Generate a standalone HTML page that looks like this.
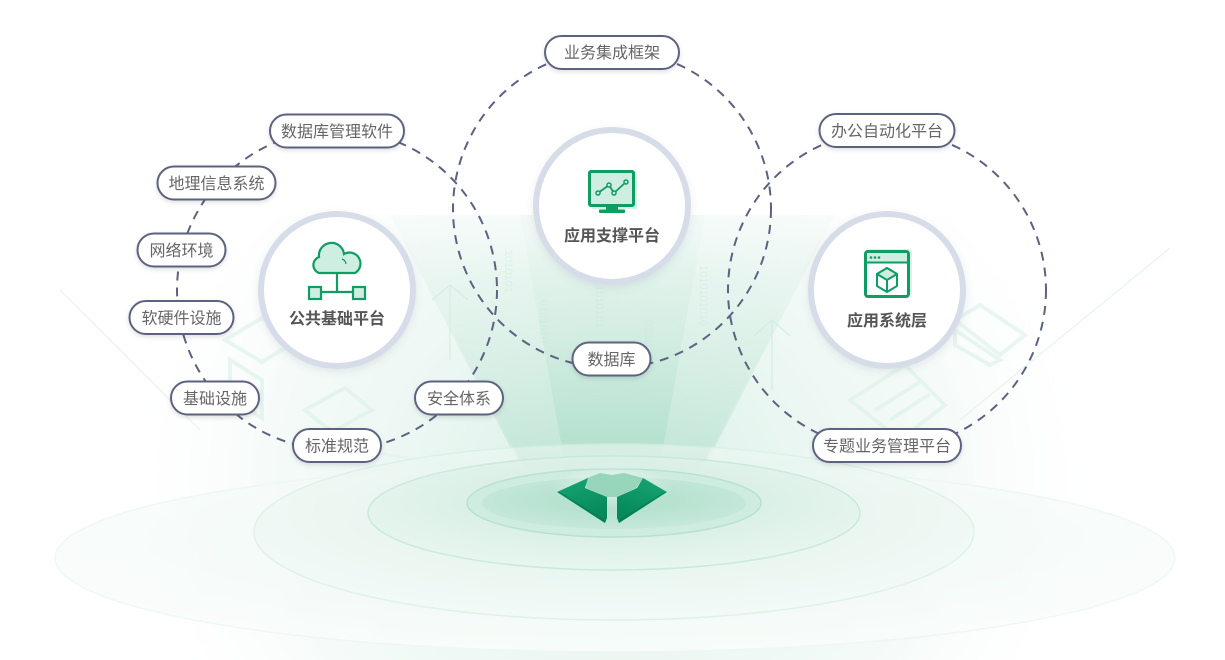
<!DOCTYPE html>
<html><head><meta charset="utf-8"><style>
html,body{margin:0;padding:0;background:#fff;}
svg{display:block;}
text{font-family:"Liberation Sans","Noto Sans CJK SC",sans-serif;}
</style></head><body>
<svg width="1225" height="660" viewBox="0 0 1225 660" xmlns="http://www.w3.org/2000/svg">
<defs>
<radialGradient id="bg" gradientUnits="userSpaceOnUse" cx="612" cy="480" r="500" gradientTransform="translate(612 480) scale(1 0.85) translate(-612 -480)">
 <stop offset="0" stop-color="#d6efe5"/>
 <stop offset="0.35" stop-color="#e9f6f1"/>
 <stop offset="0.7" stop-color="#f6fbf9"/>
 <stop offset="1" stop-color="#ffffff" stop-opacity="0"/>
</radialGradient>
<linearGradient id="fadeTop" x1="0" y1="0" x2="0" y2="1">
 <stop offset="0" stop-color="#ffffff" stop-opacity="0.6"/>
 <stop offset="1" stop-color="#ffffff" stop-opacity="0"/>
</linearGradient>
<linearGradient id="beamA" x1="0" y1="1" x2="0" y2="0">
 <stop offset="0" stop-color="#aadcc7" stop-opacity="0.55"/>
 <stop offset="1" stop-color="#e2f3ec" stop-opacity="0.15"/>
</linearGradient>
<linearGradient id="beamB" x1="0" y1="1" x2="0" y2="0">
 <stop offset="0" stop-color="#93d3b8" stop-opacity="0.5"/>
 <stop offset="1" stop-color="#d6eee4" stop-opacity="0.1"/>
</linearGradient>
<radialGradient id="ell1" cx="0.5" cy="0.4" r="0.6">
 <stop offset="0" stop-color="#eef8f4"/>
 <stop offset="1" stop-color="#fafdfc"/>
</radialGradient>
<radialGradient id="ell2" cx="0.5" cy="0.4" r="0.6">
 <stop offset="0" stop-color="#ddf1e8"/>
 <stop offset="1" stop-color="#f3faf7"/>
</radialGradient>
<radialGradient id="ell3" cx="0.5" cy="0.4" r="0.6">
 <stop offset="0" stop-color="#cbeadd"/>
 <stop offset="1" stop-color="#e8f6f0"/>
</radialGradient>
<radialGradient id="ell4" cx="0.5" cy="0.45" r="0.6">
 <stop offset="0" stop-color="#addec9"/>
 <stop offset="1" stop-color="#c8e9db"/>
</radialGradient>
<radialGradient id="gemGlow" cx="0.5" cy="0.5" r="0.5">
 <stop offset="0" stop-color="#ffffff" stop-opacity="0.7"/>
 <stop offset="1" stop-color="#ffffff" stop-opacity="0"/>
</radialGradient>
<linearGradient id="gemL" x1="0" y1="0" x2="0.4" y2="1">
 <stop offset="0" stop-color="#18a874"/>
 <stop offset="1" stop-color="#06885a"/>
</linearGradient>
<linearGradient id="gemR" x1="1" y1="0" x2="0.6" y2="1">
 <stop offset="0" stop-color="#18a874"/>
 <stop offset="1" stop-color="#06885a"/>
</linearGradient>
<filter id="pshadow" x="-20%" y="-40%" width="140%" height="200%">
 <feDropShadow dx="0" dy="2" stdDeviation="2.5" flood-color="#000" flood-opacity="0.12"/>
</filter>
<filter id="nshadow" x="-20%" y="-20%" width="140%" height="140%">
 <feDropShadow dx="0" dy="3" stdDeviation="4" flood-color="#5a6a80" flood-opacity="0.12"/>
</filter>
</defs>

<!-- background glow -->
<rect x="80" y="215" width="1070" height="445" fill="url(#bg)"/>
<rect x="80" y="215" width="1070" height="60" fill="url(#fadeTop)"/>

<!-- faint decorative lines -->
<g stroke="#e2f3ec" stroke-width="1.2" fill="none" opacity="0.9">
 <line x1="960" y1="420" x2="1170" y2="248"/>
 <line x1="200" y1="430" x2="60" y2="290"/>
 <path d="M 400 560 Q 520 300 612 290 Q 705 300 825 560" stroke="#e6f5ef"/>
</g>

<!-- faint isometric shapes -->
<g stroke="#dcf1e8" stroke-width="4" fill="none" opacity="0.6">
 <polygon points="225,340 262,318 298,340 262,362"/>
 <polygon points="230,360 262,380 262,418 230,398"/>
 <polygon points="305,410 345,388 372,410 332,432"/>
 <polygon points="955,320 980,305 1025,335 1000,355"/>
 <polygon points="955,330 1000,360 990,365 955,345"/>
 <polygon points="850,400 905,365 945,405 900,440"/>
 <line x1="875" y1="410" x2="920" y2="382"/>
 <line x1="890" y1="420" x2="930" y2="394"/>
</g>

<!-- faint binary columns -->
<g fill="#d6ece2" font-size="11" opacity="0.7">
 <text transform="translate(596,285) rotate(90)">1010101</text>
 <text transform="translate(700,265) rotate(90)">1010101010</text>
 <text transform="translate(540,300) rotate(90)">0101010</text>
 <text transform="translate(505,250) rotate(90)">1010101</text>
 <text transform="translate(645,320) rotate(90)">01010</text>
</g>

<!-- beams -->
<polygon points="390,215 835,215 690,495 535,495" fill="url(#beamA)"/>
<polygon points="520,215 705,215 655,492 570,492" fill="url(#beamB)"/>
<polygon points="300,440 560,480 600,495" fill="#dbf1e8" opacity="0.45"/>
<polygon points="925,440 665,480 625,495" fill="#dbf1e8" opacity="0.45"/>
<g stroke="#d0ebdf" stroke-width="1" fill="none">
 <polyline points="432,300 450,285 468,300"/><line x1="450" y1="285" x2="450" y2="360"/>
 <polyline points="754,336 772,320 790,336"/><line x1="772" y1="320" x2="772" y2="390"/>
</g>

<!-- bottom ellipses -->
<ellipse cx="615" cy="558" rx="560" ry="94" fill="url(#ell1)" stroke="#edf7f3" stroke-width="1.5" opacity="0.85"/>
<ellipse cx="614" cy="532" rx="360" ry="88" fill="url(#ell2)" stroke="#daf0e7" stroke-width="1.5" opacity="0.8"/>
<polygon points="390,215 835,215 700,470 525,470" fill="url(#beamA)" opacity="0.35"/>
<ellipse cx="614" cy="513" rx="246" ry="57" fill="url(#ell3)" stroke="#c6e7d9" stroke-width="1.5" opacity="0.85"/>
<ellipse cx="614" cy="503" rx="147" ry="34" fill="#cfece0" stroke="#b9e1d0" stroke-width="1.5"/>
<ellipse cx="614" cy="503" rx="132" ry="26" fill="url(#ell4)"/>
<ellipse cx="612" cy="488" rx="60" ry="22" fill="url(#gemGlow)"/>

<!-- gem -->
<polygon points="587,478 600,473 612,475 624,473 643,478 636,488 617,497 607,497 586,488" fill="#8fd3b6" opacity="0.9"/>
<polygon points="557,492 588,478 585,488 607,497 607,518 605,523" fill="url(#gemL)"/>
<polygon points="667,492 643,478 637,488 617,497 617,518 619,523" fill="url(#gemR)"/>
<polygon points="557,492 605,523 605,520 560,492" fill="#047a4d" opacity="0.6"/>
<polygon points="667,492 619,523 619,520 664,492" fill="#047a4d" opacity="0.6"/>

<!-- dashed circles -->
<g fill="none" stroke="#5d6280" stroke-width="2" stroke-dasharray="9 7">
 <circle cx="337" cy="290" r="160"/>
 <circle cx="612" cy="209" r="159"/>
 <circle cx="887" cy="290" r="159"/>
</g>

<!-- center nodes -->
<g filter="url(#nshadow)">
 <circle cx="337" cy="290" r="76" fill="#fff" stroke="#d6dde8" stroke-width="6"/>
 <circle cx="612" cy="206" r="76" fill="#fff" stroke="#d6dde8" stroke-width="6"/>
 <circle cx="887" cy="290" r="76" fill="#fff" stroke="#d6dde8" stroke-width="6"/>
</g>

<!-- cloud icon -->
<g stroke="#0f9d63" stroke-width="2.2" fill="#cdeee0">
 <path d="M 319 273 A 8.5 8.5 0 0 1 319 257 A 12.5 12.5 0 0 1 344 254 A 10 10 0 0 1 355 273 Z"/>
 <line x1="337" y1="273" x2="337" y2="292" fill="none"/>
 <line x1="321" y1="292" x2="353" y2="292" fill="none"/>
 <rect x="309" y="287" width="12" height="12"/>
 <rect x="353" y="287" width="12" height="12"/>
</g>
<path d="M 342 259 A 6 6 0 0 1 346 264" stroke="#0f9d63" stroke-width="1.2" fill="none"/>

<!-- monitor icon -->
<rect x="592" y="174" width="45" height="35" fill="#d9f2e7"/>
<rect x="589.5" y="171.5" width="44" height="34" rx="1.5" fill="#cdeee0" stroke="#0f9d63" stroke-width="3"/>
<polyline points="598,193 609,185 614,193 626,182" fill="none" stroke="#0f9d63" stroke-width="1.8"/>
<g fill="#cdeee0" stroke="#0f9d63" stroke-width="1.5">
 <circle cx="598" cy="193" r="2"/><circle cx="609" cy="185" r="2"/><circle cx="614" cy="193" r="2"/><circle cx="626" cy="182" r="2"/>
</g>
<rect x="606" y="207" width="12" height="3" fill="#0f9d63"/>
<rect x="599" y="209.5" width="26" height="3.5" rx="1" fill="#0f9d63"/>

<!-- window/cube icon -->
<rect x="868" y="249" width="44" height="46" rx="3" fill="#d9f2e7"/>
<rect x="865.5" y="251.5" width="43" height="45" rx="2.5" fill="#fff" stroke="#0f9d63" stroke-width="3"/>
<rect x="867" y="253" width="40" height="9" fill="#cdeee0"/>
<line x1="866" y1="262.5" x2="908" y2="262.5" stroke="#0f9d63" stroke-width="2"/>
<g fill="#0f9d63"><circle cx="871" cy="257.5" r="1.3"/><circle cx="875" cy="257.5" r="1.3"/><circle cx="879" cy="257.5" r="1.3"/></g>
<g stroke="#0f9d63" stroke-width="2" stroke-linejoin="round">
 <polygon points="887,268 897,274 897,286 887,292 877,286 877,274" fill="#fff"/>
 <polygon points="887,268 897,274 887,280 877,274" fill="#cdeee0"/>
 <line x1="887" y1="280" x2="887" y2="292"/>
</g>

<!-- node labels -->
<g font-size="16" font-weight="bold" fill="#555" text-anchor="middle">
 <text x="337" y="324">公共基础平台</text>
 <text x="612" y="241">应用支撑平台</text>
 <text x="887" y="326">应用系统层</text>
</g>

<!-- pills -->
<g filter="url(#pshadow)" fill="#fff" stroke="#5d6280" stroke-width="2">
 <rect x="545" y="36" width="134" height="33" rx="16.5"/>
 <rect x="270" y="114.5" width="134" height="33" rx="16.5"/>
 <rect x="157.5" y="166.5" width="118" height="33" rx="16.5"/>
 <rect x="137.5" y="233.5" width="88" height="33" rx="16.5"/>
 <rect x="129.5" y="301" width="104" height="33" rx="16.5"/>
 <rect x="171" y="381.5" width="88" height="33" rx="16.5"/>
 <rect x="415" y="381.5" width="88" height="33" rx="16.5"/>
 <rect x="293" y="429" width="88" height="33" rx="16.5"/>
 <rect x="572.5" y="342.5" width="78" height="33" rx="16.5"/>
 <rect x="819.5" y="114" width="135" height="33" rx="16.5"/>
 <rect x="813" y="429" width="148" height="33" rx="16.5"/>
</g>
<g font-size="16" fill="#666" text-anchor="middle">
 <text x="612" y="58">业务集成框架</text>
 <text x="337" y="137">数据库管理软件</text>
 <text x="216.5" y="189">地理信息系统</text>
 <text x="181.5" y="256">网络环境</text>
 <text x="181.5" y="323.5">软硬件设施</text>
 <text x="215" y="404">基础设施</text>
 <text x="459" y="404">安全体系</text>
 <text x="337" y="451.5">标准规范</text>
 <text x="611.5" y="365">数据库</text>
 <text x="887" y="136.5">办公自动化平台</text>
 <text x="887" y="451.5">专题业务管理平台</text>
</g>
</svg>
</body></html>
